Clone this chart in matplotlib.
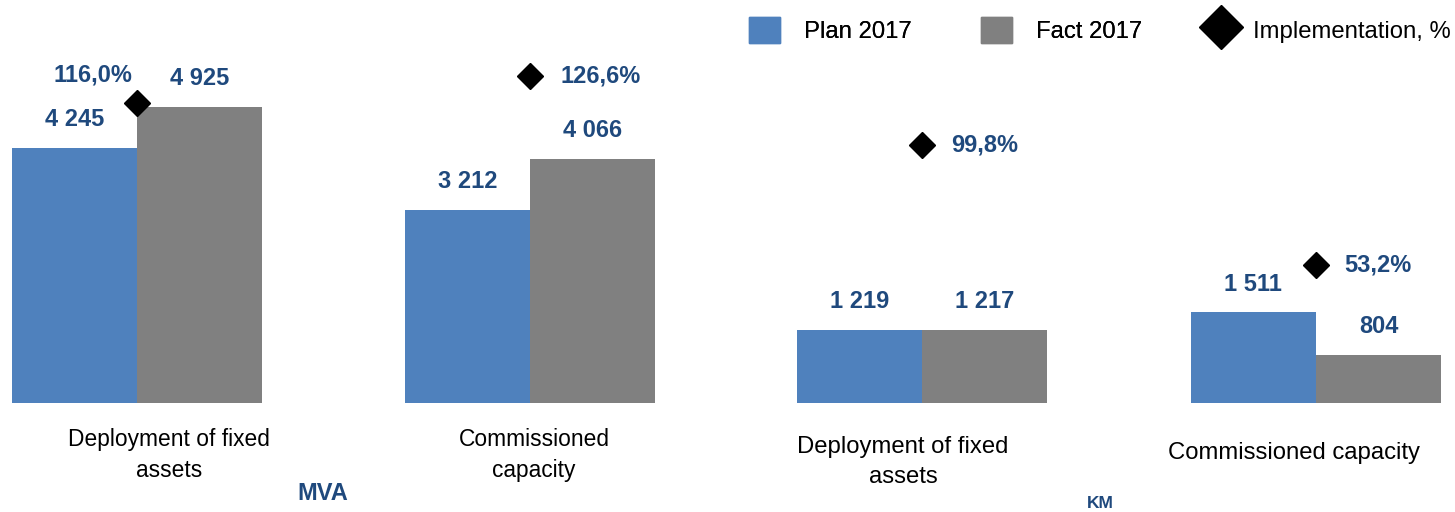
import matplotlib
matplotlib.use("Agg")
import matplotlib.pyplot as plt
from matplotlib import font_manager
from matplotlib.patches import Patch
from matplotlib.lines import Line2D

plt.rcParams['font.family'] = ['Liberation Sans', 'DejaVu Sans']

# the reference uses a condensed face for the plain texts
installed = {f.name for f in font_manager.fontManager.ttflist}
if 'Liberation Sans Narrow' in installed:
    NARROW, NSCALE = ['Liberation Sans Narrow', 'Liberation Sans'], 1.0
else:
    NARROW, NSCALE = ['Liberation Sans', 'DejaVu Sans'], 0.82

# data
mva_categories = ['Deployment of fixed\nassets', 'Commissioned\ncapacity']
mva_plan = [4245, 3212]
mva_fact = [4925, 4066]
mva_impl = [116.0, 126.6]

km_categories = ['Deployment of fixed\nassets', 'Commissioned capacity']
km_plan = [1219, 1511]
km_fact = [1217, 804]
km_impl = [99.8, 53.2]

series_names = ['Plan 2017', 'Fact 2017', 'Implementation, %']

PLAN_C = '#4F81BD'
FACT_C = '#808080'
VAL_C = '#1F497D'

W, H = 1455, 512
fig = plt.figure(figsize=(W / 100, H / 100), dpi=100)


def px_axes(left, top, right, bottom):
    return fig.add_axes([left / W, 1 - bottom / H, (right - left) / W, (bottom - top) / H])


def fmt_num(v):
    return f"{v:,}".replace(',', ' ')


def fmt_pct(p):
    return f"{p:.1f}%".replace('.', ',')


def draw_panel(ax, cats, plan, fact, impl, xlim, pct_offsets, label_dx, label_dy,
               label_size, spacing):
    bw = 0.318
    xs = list(range(len(cats)))
    ax.bar([x - bw / 2 for x in xs], plan, width=bw, color=PLAN_C)
    ax.bar([x + bw / 2 for x in xs], fact, width=bw, color=FACT_C)
    ax.set_xlim(*xlim)
    ax.set_ylim(0, 6705)
    ax.set_axis_off()
    for x, p, f in zip(xs, plan, fact):
        for xx, v in ((x - bw / 2, p), (x + bw / 2, f)):
            ax.annotate(fmt_num(v), (xx, v), xytext=(0, 28), textcoords='offset pixels',
                        ha='center', va='center', fontsize=17, fontweight='bold',
                        color=VAL_C, annotation_clip=False)
    for x, c, dx, dy in zip(xs, cats, label_dx, label_dy):
        ax.annotate(c, (x, 0), xytext=(dx, -dy), textcoords='offset pixels',
                    ha='center', va='center', multialignment='center',
                    fontsize=label_size * NSCALE, family=NARROW,
                    linespacing=spacing, annotation_clip=False)

    ax2 = ax.twinx()
    ax2.set_ylim(0, 155.8)
    ax2.set_xlim(*xlim)
    ax2.plot(xs, impl, linestyle='none', marker='D', markersize=13.2, color='black')
    ax2.set_axis_off()
    for x, p, (ox, oy, ha) in zip(xs, impl, pct_offsets):
        ax2.annotate(fmt_pct(p), (x, p), xytext=(ox, oy), textcoords='offset pixels',
                     ha=ha, va='center', fontsize=17, fontweight='bold',
                     color=VAL_C, annotation_clip=False)


ax_l = px_axes(0, 0, 700, 403)
draw_panel(ax_l, mva_categories, mva_plan, mva_fact, mva_impl,
           (-137 / 393, (700 - 137) / 393),
           [(-44, 28, 'center'), (31, 0, 'left')],
           [32, 4], [52, 52], 20, 1.4)

ax_r = px_axes(740, 0, 1455, 403)
draw_panel(ax_r, km_categories, km_plan, km_fact, km_impl,
           (-(922 - 740) / 394, (1455 - 922) / 394),
           [(29, 0, 'left'), (28, 0, 'left')],
           [-19, -22], [59, 50], 21, 1.45)

fig.text(323 / W, 1 - 494 / H, 'MVA', ha='center', va='center',
         fontsize=17, fontweight='bold', color=VAL_C)
fig.text(1100 / W, 1 - 503 / H, 'KM', ha='center', va='center',
         fontsize=12.5, fontweight='bold', color=VAL_C)

leg_fs = 21 * NSCALE
fs_px = leg_fs * 100 / 72
bar_handles = [Patch(color=PLAN_C), Patch(color=FACT_C)]
leg1 = fig.legend(bar_handles, series_names[:2], loc='center left',
                  bbox_to_anchor=(749 / W, 1 - 30 / H), ncol=2, frameon=False,
                  prop={'family': NARROW, 'size': leg_fs},
                  handlelength=31 / fs_px, handleheight=30 / fs_px,
                  handletextpad=24 / fs_px, columnspacing=69 / fs_px,
                  borderpad=0, borderaxespad=0)
fig.add_artist(leg1)
diamond = Line2D([], [], linestyle='none', marker='D', markersize=22, color='black')
fig.legend([diamond], series_names[2:], loc='center left',
           bbox_to_anchor=(1205 / W, 1 - 30 / H), frameon=False,
           prop={'family': NARROW, 'size': leg_fs},
           handlelength=32 / fs_px, handleheight=30 / fs_px,
           handletextpad=16 / fs_px, borderpad=0, borderaxespad=0)

fig.savefig('out.png', dpi=100)
